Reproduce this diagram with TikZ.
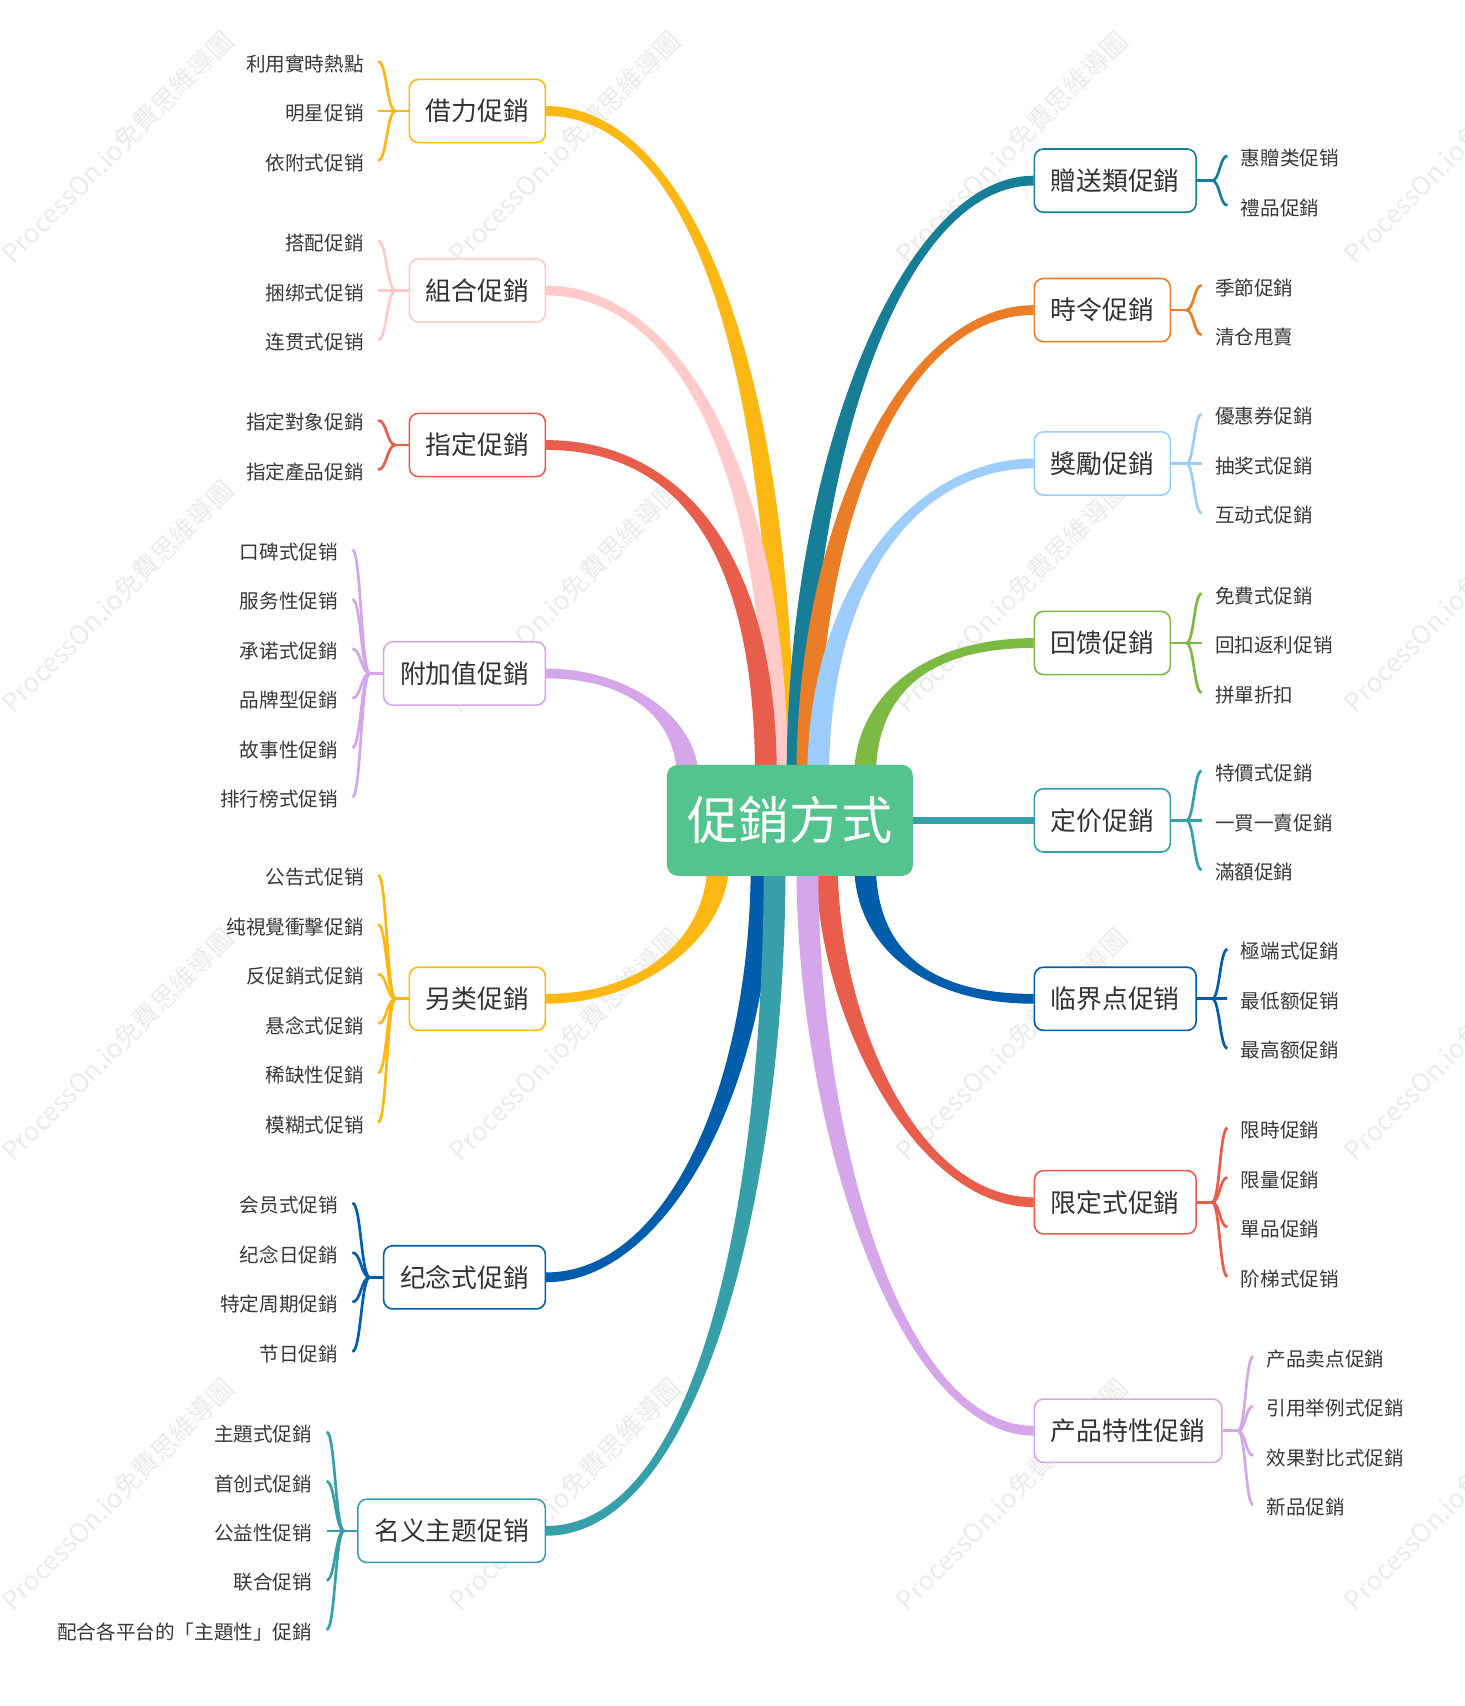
\documentclass[tikz,border=0pt]{standalone}
\usepackage{fontspec}
\usetikzlibrary{calc,positioning,backgrounds}
\newfontfamily\cjk{Noto Sans CJK SC}

\definecolor{cHub}{HTML}{53C48D}
\definecolor{cYellow}{HTML}{FDB813}
\definecolor{cPink}{HTML}{FFCACA}
\definecolor{cRed}{HTML}{E85D4B}
\definecolor{cLav}{HTML}{D5A6EA}
\definecolor{cBlue}{HTML}{005DAC}
\definecolor{cTeal}{HTML}{369FA9}
\definecolor{cDTeal}{HTML}{167E96}
\definecolor{cOrange}{HTML}{EA7D25}
\definecolor{cLBlue}{HTML}{9DCDFD}
\definecolor{cGreen}{HTML}{7DBA43}

\tikzset{
  hubbox/.style={fill=cHub, rounded corners=5.4pt, minimum width=123pt,
    minimum height=55.5pt, text=white, font=\cjk\fontsize{25.6}{30}\selectfont},
  topicbox/.style={draw=#1, line width=0.8pt, fill=white, rounded corners=4.5pt,
    minimum height=31.6pt, inner xsep=8.2pt, text=black!80,
    font=\cjk\fontsize{12.9}{15}\selectfont},
  leafnode/.style={inner sep=0pt, text=black!78, font=\cjk\fontsize{9.8}{12}\selectfont},
  brk/.style={draw=#1, line width=1.35pt},
  wmtext/.style={rotate=45, text=black!8, font=\cjk\fontsize{13}{15}\selectfont},
}

% tapered band: colour, topic anchor, hub point, ctrl dx, ctrl dy, side
\newcommand{\band}[6]{%
  \fill[#1] ($(#2)+(0,-4.5)$) .. controls ($(#2)+(#4,-4.5)$) and ($(#3)+({#6*10},#5)$)
    .. ($(#3)+({#6*10},0)$) -- ($(#3)+({0-(#6)*10},0)$)
    .. controls ($(#3)+({0-(#6)*10},#5)$) and ($(#2)+(#4,4.5)$) .. ($(#2)+(0,4.5)$) -- cycle;
}

% leaves: topic, colour, count, labels
\newcommand{\leavesleft}[4]{%
  \draw[brk=#2] (#1.west) -- ++(-12,0) coordinate (#1-j);
  \foreach \lbl [count=\i] in {#4}{
    \node[leafnode, anchor=east] (#1-\i) at ($(#1.west)+(-41,{(\i-(#3+1)/2)*45.5+2})$) {\lbl};
    \draw[brk=#2] (#1-j) .. controls +(-8,0) and +(8,0) .. ($(#1-\i.east)+(13,-2)$);
  }
}
\newcommand{\leavesright}[4]{%
  \draw[brk=#2] (#1.east) -- ++(14,0) coordinate (#1-j);
  \foreach \lbl [count=\i] in {#4}{
    \node[leafnode, anchor=west] (#1-\i) at ($(#1.east)+(40,{(\i-(#3+1)/2)*45.5+2})$) {\lbl};
    \draw[brk=#2] (#1-j) .. controls +(7,0) and +(-7,0) .. ($(#1-\i.west)+(-12,-2)$);
  }
}

\begin{document}
\begin{tikzpicture}[x=0.5442pt, y=-0.5442pt]
\useasboundingbox (0,0) rectangle (1346,1568);

% hub
\node[hubbox] (hub) at (726,754) {促銷方式};

% left topics
\node[topicbox=cYellow, anchor=east] (jl) at (502,102) {借力促銷};
\node[topicbox=cPink, anchor=east] (zh) at (502,267) {組合促銷};
\node[topicbox=cRed, anchor=east] (zd) at (502,409) {指定促銷};
\node[topicbox=cLav, anchor=east] (fj) at (502,619) {附加值促銷};
\node[topicbox=cYellow, anchor=east] (ll) at (502,918) {另类促銷};
\node[topicbox=cBlue, anchor=east] (jn) at (502,1174) {纪念式促銷};
\node[topicbox=cTeal, anchor=east] (mz) at (502,1407) {名义主题促销};

% right topics
\node[topicbox=cDTeal, anchor=west] (zs) at (950,166) {贈送類促銷};
\node[topicbox=cOrange, anchor=west] (sl) at (950,285) {時令促銷};
\node[topicbox=cLBlue, anchor=west] (jj) at (950,426) {獎勵促銷};
\node[topicbox=cGreen, anchor=west] (hk) at (950,591) {回馈促銷};
\node[topicbox=cTeal, anchor=west] (dj) at (950,754) {定价促銷};
\node[topicbox=cBlue, anchor=west] (lj) at (950,918) {临界点促销};
\node[topicbox=cRed, anchor=west] (xd) at (950,1105) {限定式促銷};
\node[topicbox=cLav, anchor=west] (cp) at (950,1315) {产品特性促銷};

% where the bands leave the hub
\coordinate (s-jl) at ($(hub.north)+(-6,12)$);
\coordinate (s-zh) at ($(hub.north)+(-12,12)$);
\coordinate (s-zd) at ($(hub.north)+(-22,12)$);
\coordinate (s-fj) at ($(hub.north)+(-94,12)$);
\coordinate (s-ll) at ($(hub.south)+(-66,-12)$);
\coordinate (s-jn) at ($(hub.south)+(-26,-12)$);
\coordinate (s-mz) at ($(hub.south)+(-14,-12)$);
\coordinate (s-zs) at ($(hub.north)+(7,12)$);
\coordinate (s-sl) at ($(hub.north)+(16,12)$);
\coordinate (s-jj) at ($(hub.north)+(26,12)$);
\coordinate (s-hk) at ($(hub.north)+(69,12)$);
\coordinate (s-lj) at ($(hub.south)+(69,-12)$);
\coordinate (s-xd) at ($(hub.south)+(34,-12)$);
\coordinate (s-cp) at ($(hub.south)+(16,-12)$);

\begin{pgfonlayer}{background}
  \fill[white] (0,0) rectangle (1346,1568);
  \foreach \wx in {108,519,930,1342}
    \foreach \wy in {135,548,960,1373}
      \node[wmtext] (wm\wx-\wy) at (\wx,\wy) {ProcessOn.io免費思維導圖};

  \band{cYellow}{jl.east}{s-jl}{130}{-385}{1}
  \band{cPink}{zh.east}{s-zh}{115}{-295}{1}
  \band{cRed}{zd.east}{s-zd}{110}{-225}{1}
  \band{cLav}{fj.east}{s-fj}{75}{-55}{1}
  \band{cYellow}{ll.east}{s-ll}{90}{67}{-1}
  \band{cBlue}{jn.east}{s-jn}{110}{207}{-1}
  \band{cTeal}{mz.east}{s-mz}{140}{307}{-1}
  \band{cDTeal}{zs.west}{s-zs}{-120}{-295}{-1}
  \band{cOrange}{sl.west}{s-sl}{-120}{-235}{-1}
  \band{cLBlue}{jj.west}{s-jj}{-110}{-175}{-1}
  \band{cGreen}{hk.west}{s-hk}{-100}{-75}{-1}
  \band{cBlue}{lj.west}{s-lj}{-100}{77}{1}
  \band{cRed}{xd.west}{s-xd}{-110}{137}{1}
  \band{cLav}{cp.west}{s-cp}{-120}{257}{1}
  \draw[cTeal, line width=3.8pt] (hub.east) -- (dj.west);
\end{pgfonlayer}

% leaves
\leavesleft{jl}{cYellow}{3}{利用實時熱點,明星促销,依附式促销}
\leavesleft{zh}{cPink}{3}{搭配促銷,捆绑式促销,连贯式促销}
\leavesleft{zd}{cRed}{2}{指定對象促銷,指定產品促銷}
\leavesleft{fj}{cLav}{6}{口碑式促销,服务性促销,承诺式促銷,品牌型促銷,故事性促銷,排行榜式促销}
\leavesleft{ll}{cYellow}{6}{公告式促销,纯視覺衝擊促銷,反促銷式促銷,悬念式促銷,稀缺性促銷,模糊式促销}
\leavesleft{jn}{cBlue}{4}{会员式促销,纪念日促銷,特定周期促銷,节日促銷}
\leavesleft{mz}{cTeal}{5}{主題式促銷,首创式促銷,公益性促销,联合促销,配合各平台的「主題性」促銷}

\leavesright{zs}{cDTeal}{2}{惠贈类促销,禮品促銷}
\leavesright{sl}{cOrange}{2}{季節促銷,清仓甩賣}
\leavesright{jj}{cLBlue}{3}{優惠券促銷,抽奖式促銷,互动式促銷}
\leavesright{hk}{cGreen}{3}{免費式促銷,回扣返利促销,拼單折扣}
\leavesright{dj}{cTeal}{3}{特價式促銷,一買一賣促銷,滿額促銷}
\leavesright{lj}{cBlue}{3}{極端式促銷,最低额促销,最高额促銷}
\leavesright{xd}{cRed}{4}{限時促銷,限量促銷,單品促銷,阶梯式促销}
\leavesright{cp}{cLav}{4}{产品卖点促銷,引用举例式促銷,效果對比式促銷,新品促銷}
\end{tikzpicture}
\end{document}
